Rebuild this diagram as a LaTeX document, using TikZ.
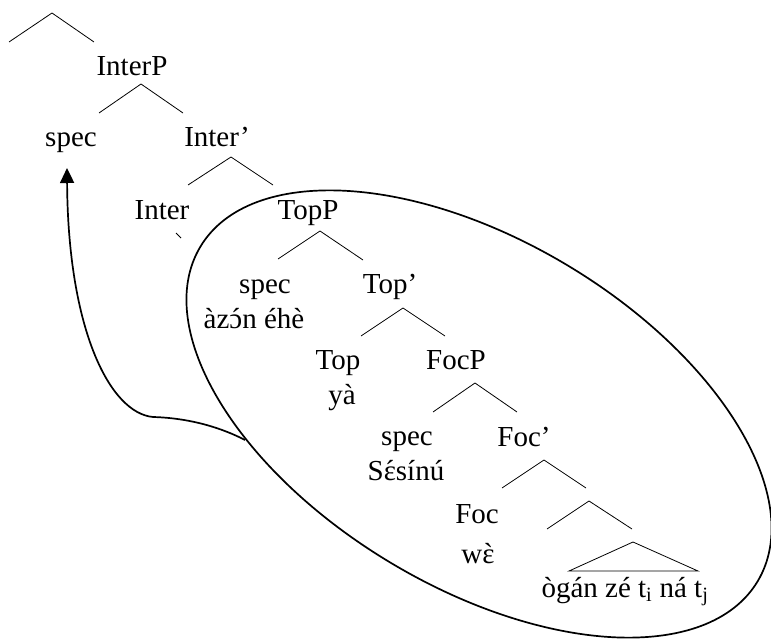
\documentclass[tikz,border=0pt]{standalone}
\usepackage{fontspec}
\setmainfont{Liberation Serif}
\newfontfamily\rawserif{Liberation Serif}
\newcommand\withacc[2]{\leavevmode\ooalign{#2\cr\hidewidth{\rawserif #1}\hidewidth\cr}}
\usetikzlibrary{arrows.meta}
\begin{document}
\begin{tikzpicture}[x=1pt,y=-1pt,
  lbl/.style={anchor=base, inner sep=0pt, font=\fontsize{29}{34}\selectfont},
  br/.style={line width=0.8pt},
  ell/.style={line width=1.7pt},
  arr/.style={line width=1.7pt, -{Triangle[length=15pt,width=14pt]}}]
\useasboundingbox (0,0) rectangle (771,639);

% labels
\node[lbl] (interP) at (132,76) {InterP};
\node[lbl] (spec1) at (71,147) {spec};
\node[lbl] (interbar) at (217,147) {Inter’};
\node[lbl] (inter) at (162,220) {Inter};
\node[lbl] (topP) at (308,220) {TopP};
\node[lbl] (spec2) at (265,293) {spec};
\node[lbl] (azon) at (254,328) {àz\withacc{´}{ɔ}n éhè};
\node[lbl] (topbar) at (390,293) {Top’};
\node[lbl] (top) at (338,369) {Top};
\node[lbl] (ya) at (342,404) {yà};
\node[lbl] (focP) at (456,369) {FocP};
\node[lbl] (spec3) at (407,445) {spec};
\node[lbl] (sesinu) at (406,480) {S\withacc{´}{ɛ}sínú};
\node[lbl] (focbar) at (524,446) {Foc’};
\node[lbl] (foc) at (477,523) {Foc};
\node[lbl] (we) at (478,563) {w\withacc{`}{ɛ}};
\node[lbl] (ogan) at (625,597) {ògán zé t\textsubscript{i} ná t\textsubscript{j}};

% branch points
\coordinate (a0) at (52,13);  \coordinate (l0) at (9,42);    \coordinate (r0) at (94,42);
\coordinate (a1) at (141,84); \coordinate (l1) at (99,113);  \coordinate (r1) at (183,113);
\coordinate (a2) at (231,157);\coordinate (l2) at (188,185); \coordinate (r2) at (273,185);
\coordinate (a3) at (320,231);\coordinate (l3) at (278,259); \coordinate (r3) at (363,260);
\coordinate (a4) at (403,308);\coordinate (l4) at (361,336); \coordinate (r4) at (445,336);
\coordinate (a5) at (475,383);\coordinate (l5) at (433,412); \coordinate (r5) at (517,412);
\coordinate (a6) at (544,460);\coordinate (l6) at (502,488); \coordinate (r6) at (586,488);
\coordinate (a7) at (589,501);\coordinate (l7) at (547,529); \coordinate (r7) at (632,529);
\coordinate (ta) at (633,542);\coordinate (tl) at (569,571); \coordinate (tr) at (698,571);
\coordinate (tk1) at (176,233); \coordinate (tk2) at (181,238);

\foreach \i in {0,...,7} { \draw[br] (l\i) -- (a\i) -- (r\i); }
\draw[br] (tl) -- (ta) -- (tr) -- cycle;
\draw[br] (tk1) -- (tk2);

% ellipse
\coordinate (ec) at (479,414);
\draw[ell, rotate around={-31:(ec)}] (ec) ellipse [x radius=325pt, y radius=173pt];

% movement arrow
\coordinate (estart) at (245,440);
\coordinate (bend) at (153,417);
\coordinate (tip) at (67,168);
\draw[arr] (estart) .. controls (222,428) and (190,418) .. (bend)
  .. controls (110,413) and (68,330) .. (tip);
\end{tikzpicture}
\end{document}
